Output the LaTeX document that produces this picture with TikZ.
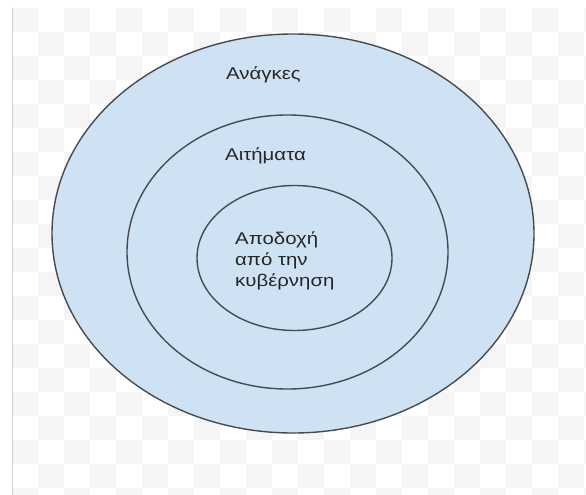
\documentclass[tikz,border=0pt]{standalone}
\usepackage{fontspec}
\setmainfont[FakeStretch=1.2]{Liberation Sans}
\definecolor{xanhnhat}{HTML}{CFE2F3}
\definecolor{vien}{HTML}{474B50}
\definecolor{ochu}{HTML}{F5F5F5}
\begin{document}
\begin{tikzpicture}[x=1pt,y=-1pt,
    nhan/.style={anchor=base west,inner sep=0pt,font=\fontsize{17}{21}\selectfont,text=black!85}]
            \useasboundingbox (0,0) rectangle (586,495);
            \def\vongngoai{(293,233.5) ellipse (241pt and 199.5pt)}
            \def\vonggiua{(287.5,252) ellipse (160.5pt and 137pt)}
            \def\vongtrong{(294.5,258) ellipse (97.5pt and 72.5pt)}
            % nen o caro
            \begin{scope}
                \clip (12,8) rectangle (586,495);
                \foreach \i in {0,...,22}
                \foreach \j in {0,...,20}{
                    \pgfmathtruncatemacro\chan{mod(\i+\j,2)}
                    \ifnum\chan=0 \fill[ochu] ({12+26*\i},{8+24*\j}) rectangle +(26,24); \fi}
            \end{scope}
            \draw[gray!35] (12,8) -- (12,495);
            \filldraw[fill=xanhnhat,draw=vien,line width=1.4pt] \vongngoai;
            \filldraw[fill=xanhnhat,draw=vien,line width=1.4pt] \vonggiua;
            \filldraw[fill=xanhnhat,draw=vien,line width=1.4pt] \vongtrong;
            \node[nhan] (anagkes) at (226,79) {Ανάγκες};
            \node[nhan] (aitimata) at (225,160) {Αιτήματα};
            \node[nhan] (apodoxi) at (235,244) {Αποδοχή};
            \node[nhan] (apo) at (235,265) {από την};
            \node[nhan] (kyvernisi) at (235,286) {κυβέρνηση};
        \end{tikzpicture}
\end{document}
